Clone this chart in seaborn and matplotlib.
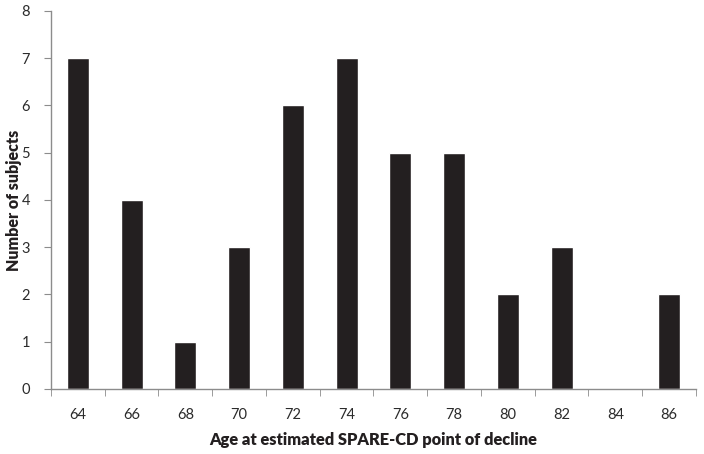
import numpy as np
import pandas as pd
import matplotlib
matplotlib.use("Agg")
import matplotlib.pyplot as plt
import seaborn as sns

ages = ["64", "66", "68", "70", "72", "74", "76", "78", "80", "82", "84", "86"]
subjects = [7, 4, 1, 3, 6, 7, 5, 5, 2, 3, 0, 2]

sns.set_style("white")
plt.rcParams['font.family'] = ['Lato', 'DejaVu Sans']

df = pd.DataFrame({"age": ages, "n": subjects})

fig = plt.figure(figsize=(7.04, 4.54), dpi=100)
ax = fig.add_axes([0.0724, 0.1432, 0.9162, 0.8326])
sns.barplot(data=df, x="age", y="n", order=ages, color="#231f20",
            saturation=1, width=0.41, ax=ax)

ax.set_xlim(-0.5, len(ages) - 0.5)
ax.set_ylim(0, 8)
ax.set_yticks(range(0, 9))
ax.set_xticks(np.arange(-0.5, len(ages)), minor=True)

gray = "#8c8c8c"
for s in ["top", "right"]:
    ax.spines[s].set_visible(False)
for s in ["left", "bottom"]:
    ax.spines[s].set_color(gray)
    ax.spines[s].set_linewidth(1)

ax.tick_params(axis="x", which="major", length=0, pad=14, labelsize=10.5, colors="#2b2b2b")
ax.tick_params(axis="x", which="minor", length=5, color=gray, direction="out", bottom=True)
ax.tick_params(axis="y", length=5, color=gray, direction="out", left=True,
               labelsize=10.5, labelcolor="#2b2b2b", pad=10)

ax.set_xlabel("Age at estimated SPARE-CD point of decline", fontsize=11.8,
              fontweight="heavy", color="#231f20", va="center")
ax.set_ylabel("Number of subjects", fontsize=11.5, fontweight="heavy",
              color="#231f20", va="center")
ax.xaxis.set_label_coords(0.5, -0.135)
ax.yaxis.set_label_coords(-0.058, 0.5)

fig.savefig("out.png", dpi=100)
